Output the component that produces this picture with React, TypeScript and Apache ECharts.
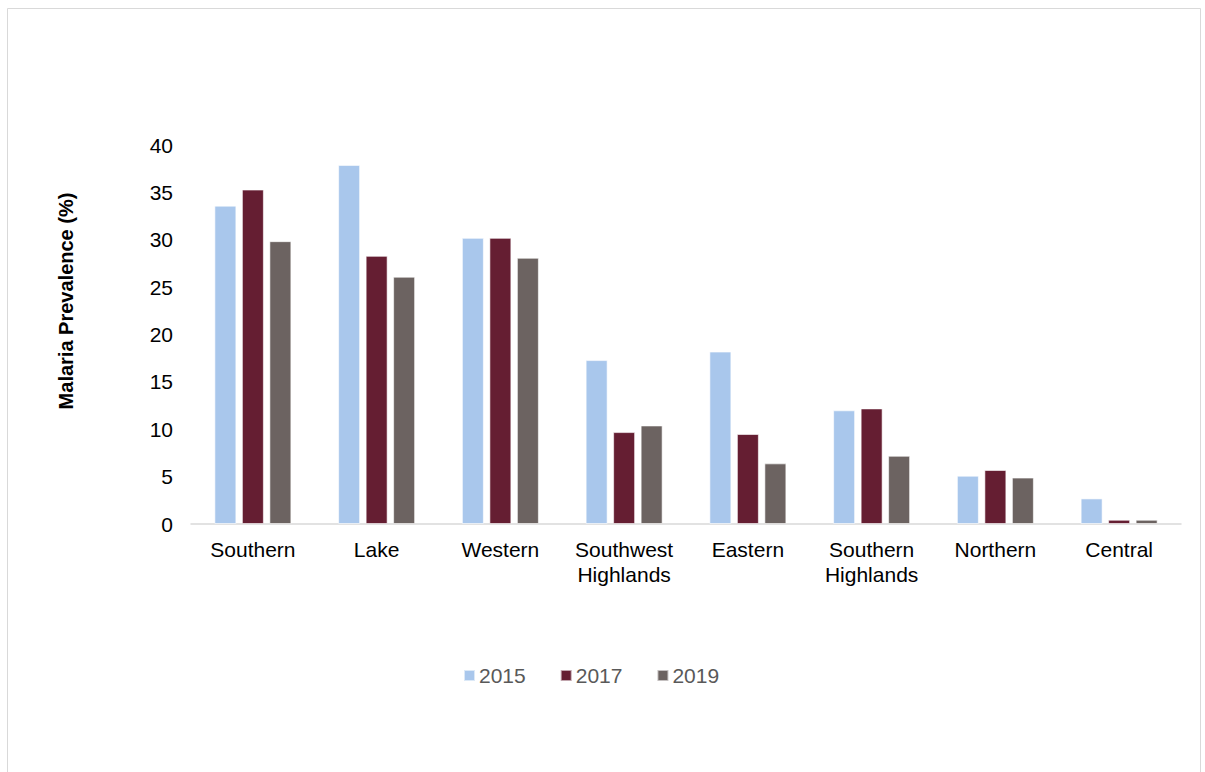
import React, { useEffect, useRef } from "react";
import * as echarts from "echarts";

const categories = [
  "Southern",
  "Lake",
  "Western",
  "Southwest\nHighlands",
  "Eastern",
  "Southern\nHighlands",
  "Northern",
  "Central",
];
const values2015 = [33.6, 37.9, 30.2, 17.3, 18.2, 12.0, 5.1, 2.7];
const values2017 = [35.3, 28.3, 30.2, 9.7, 9.5, 12.2, 5.7, 0.45];
const values2019 = [29.85, 26.1, 28.1, 10.4, 6.4, 7.2, 4.9, 0.45];
const seriesNames = ["2015", "2017", "2019"];
const yTicks = { min: 0, max: 40, interval: 5 };

const FONT = "'Liberation Sans', Arial, sans-serif";
const colors = ["#A9C7EC", "#651E32", "#6C6361"];

export default function App() {
  const ref = useRef<HTMLDivElement>(null);
  useEffect(() => {
    if (!ref.current) return;
    const chart = echarts.init(ref.current, null, { renderer: "svg" });
    const data = [values2015, values2017, values2019];
    chart.setOption({
      animation: false,
      backgroundColor: "#ffffff",
      textStyle: { fontFamily: FONT },
      grid: { left: 191, right: 24, top: 145, bottom: 772 - 524, containLabel: false },
      legend: {
        data: seriesNames,
        left: 458,
        top: 660,
        itemWidth: 11,
        itemHeight: 11,
        itemGap: 34,
        icon: "rect",
        textStyle: { color: "#595959", fontSize: 21, fontFamily: FONT, padding: [0, 0, 0, -1] },
      },
      xAxis: {
        type: "category",
        data: categories,
        axisLine: { show: true, lineStyle: { color: "#d9d9d9", width: 1.5 } },
        axisTick: { show: false },
        axisLabel: {
          color: "#000000",
          fontSize: 21,
          lineHeight: 25,
          margin: 13,
          fontFamily: FONT,
          interval: 0,
        },
      },
      yAxis: {
        type: "value",
        min: yTicks.min,
        max: yTicks.max,
        interval: yTicks.interval,
        splitLine: { show: false },
        axisLine: { show: false },
        axisTick: { show: false },
        axisLabel: { color: "#000000", fontSize: 21, margin: 18, fontFamily: FONT },
      },
      graphic: [
        {
          type: "rect",
          shape: { x: 7.5, y: 8.5, width: 1193, height: 800 },
          style: { fill: "none", stroke: "#d9d9d9", lineWidth: 1 },
          silent: true,
        },
        {
          type: "text",
          x: 66,
          y: 301,
          rotation: Math.PI / 2,
          style: {
            text: "Malaria Prevalence (%)",
            font: `bold 20px ${FONT}`,
            fill: "#000000",
            align: "center",
            verticalAlign: "middle",
          },
        },
      ],
      series: seriesNames.map((name, i) => ({
        name,
        type: "bar",
        data: data[i],
        barWidth: 22,
        barGap: "25%",
        itemStyle: { color: colors[i], borderColor: "rgba(255,255,255,0.6)", borderWidth: 1 },
      })),
    });
    return () => chart.dispose();
  }, []);
  return (
    <div
      ref={ref}
      style={{ position: "absolute", left: 0, top: 0, width: 1205, height: 772 }}
    />
  );
}
